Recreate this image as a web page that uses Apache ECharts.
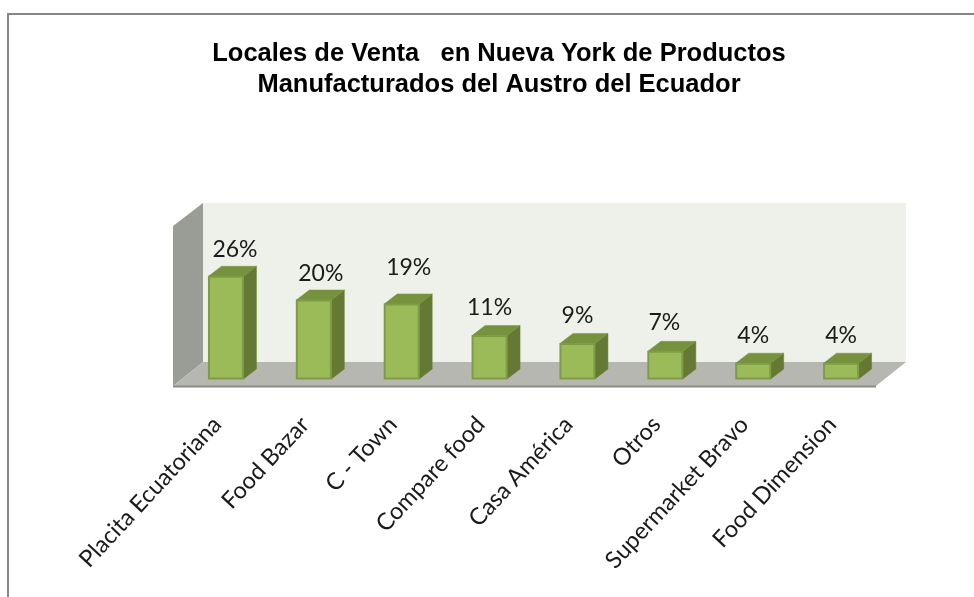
<!DOCTYPE html>
<html>
<head>
<meta charset="utf-8">
<style>html,body{margin:0;padding:0;background:#fff}#c{width:974px;height:597px}</style>
<script src="https://cdn.jsdelivr.net/npm/echarts@6/dist/echarts.min.js"></script>
</head>
<body>
<div id="c"></div>
<script>
var categories = ['Placita Ecuatoriana','Food Bazar','C - Town','Compare food','Casa América','Otros','Supermarket Bravo','Food Dimension'];
var values = [26,20,19,11,9,7,4,4];
var titleText = 'Locales de Venta   en Nueva York de Productos\nManufacturados del Austro del Ecuador';
// hand-placed label nudges seen in the reference (px)
var labelDx = [9,7,7,0,0,-1,0,0];
var labelDy = [-27,-26,-36,-28,-28,-29,-28,-28];

var chart = echarts.init(document.getElementById('c'), null, {renderer:'canvas'});
var DX = 13, DY = 10, BAR = 35;

function poly(points, fill, stroke, z2){
  return {type:'polygon', shape:{points:points}, z2:z2||0,
    style:{fill:fill, stroke:stroke||fill, lineWidth:stroke?1:0.5}};
}
function renderBar(params, api){
  var i = api.value(0);
  var base = api.coord([i, 0]);
  var top = api.coord([i, api.value(1)]);
  var l = base[0]-BAR/2, r = base[0]+BAR/2, b = base[1], t = top[1];
  return {type:'group', children:[
    poly([[r,t],[r+DX,t-DY],[r+DX,b-DY],[r,b]], '#647A34'),
    poly([[l,t],[l+DX,t-DY],[r+DX,t-DY],[r,t]], '#76923C'),
    {type:'rect', shape:{x:l+0.5,y:t+0.5,width:BAR-1,height:b-t-1},
      style:{fill:'#9BBB59', stroke:'#7F9C47', lineWidth:2}},
    {type:'text', x:base[0]+labelDx[i], y:t+labelDy[i], z2:5,
      style:{text:values[i]+'%', fill:'#1a1a1a', font:'23px Lato, sans-serif', align:'center', verticalAlign:'middle'}}
  ]};
}

chart.setOption({
  animation:false,
  backgroundColor:'#fff',
  title:{text:titleText, left:494, top:33, textAlign:'center',
    textStyle:{fontFamily:'Liberation Sans', fontWeight:'bold', fontSize:25.5, lineHeight:31, color:'#000'}},
  grid:{left:182, top:221, width:703, height:158},
  xAxis:{type:'category', data:categories, axisLine:{show:false}, axisTick:{show:false},
    axisLabel:{rotate:47, interval:0, margin:32, padding:[0,13,0,0], fontFamily:'Lato', fontSize:23.5, color:'#1a1a1a'}},
  yAxis:{type:'value', min:0, max:40, show:false},
  graphic:{elements:[
    {type:'polygon', z:-5, shape:{points:[[203,203],[906,203],[906,362],[203,362]]}, style:{fill:'#EEF1EA'}},
    {type:'polygon', z:-4, shape:{points:[[173,226],[203,203],[203,362],[173,386]]}, style:{fill:'#9A9C96'}},
    {type:'polygon', z:-4, shape:{points:[[173,386],[203,362],[906,362],[876,386]]}, style:{fill:'#B5B7B0'}},
    {type:'line', z:-3, shape:{x1:173,y1:386.5,x2:876,y2:386.5}, style:{stroke:'#8C8E8A',lineWidth:2}},
    {type:'line', z:-3, shape:{x1:8,y1:14,x2:974,y2:14}, style:{stroke:'#868686',lineWidth:2}},
    {type:'line', z:-3, shape:{x1:8,y1:13,x2:8,y2:597}, style:{stroke:'#868686',lineWidth:2}}
  ]},
  series:[{type:'custom', renderItem:renderBar, encode:{x:0,y:1}, clip:false,
    data:values.map(function(v,i){return [i,v];}), z:5}]
});
</script>
</body>
</html>
